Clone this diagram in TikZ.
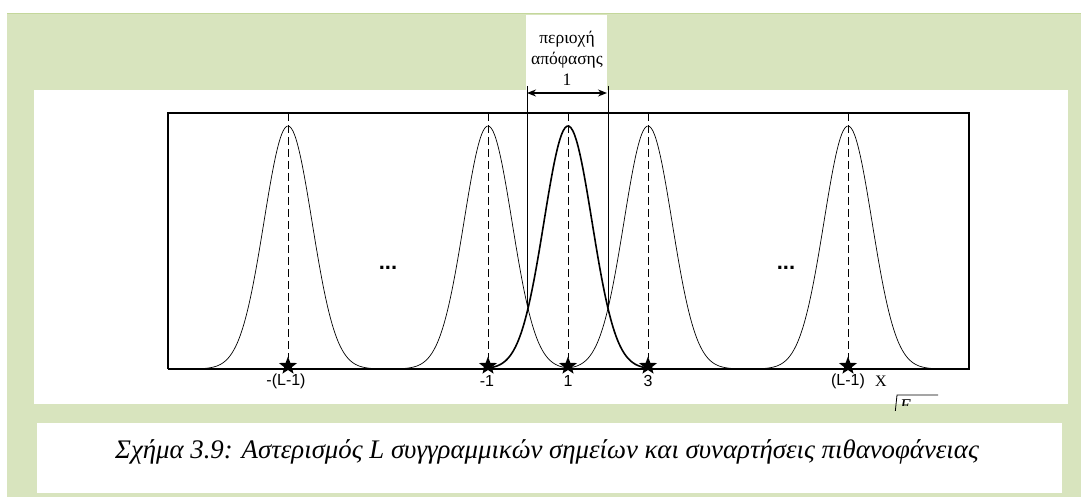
\documentclass[tikz,border=0pt]{standalone}
\usepackage{fontspec}
\setmainfont{Liberation Serif}
\newfontfamily\sansf{Liberation Sans}
\usetikzlibrary{shapes.geometric,arrows.meta}
\definecolor{bggreen}{RGB}{216,228,190}
\definecolor{edgegreen}{RGB}{196,215,155}
\tikzset{
  gauss/.style={line width=0.7pt},
  gaussbold/.style={line width=1.6pt},
  vdash/.style={line width=0.8pt, dash pattern=on 8pt off 4pt},
  starmark/.style={star, star points=5, star point ratio=2.4, fill=black, draw=none, minimum size=19pt, inner sep=0pt},
  ticklab/.style={font=\sansf\fontsize{16}{16}\selectfont, inner sep=0pt},
  declab/.style={font=\fontsize{17.5}{17.5}\selectfont, inner sep=0pt},
}
\begin{document}
\begin{tikzpicture}[x=1pt,y=-1pt]
\useasboundingbox (0,0) rectangle (1081,497);
% backgrounds
\fill[bggreen] (7,13) rectangle (1081,497);
\draw[edgegreen, line width=1.5pt] (7,13.5) -- (1081,13.5);
\fill[white] (34,90) rectangle (1068,404);
\fill[white] (526,15) rectangle (607,90);
\fill[white] (37,423) rectangle (1062,493);
% frame
\draw[line width=1.1pt] (168,369) -- (168,113) -- (969,113) -- (969,369);
\draw[line width=2pt] (167.5,369) -- (969.5,369);
% gaussians
\foreach \c in {288,488,648,848}{
  \draw[gauss] plot[domain=\c-85:\c+85, samples=90, smooth] (\x,{369-243*exp(-((\x-\c)^2)/1152)});
}
\draw[gaussbold] plot[domain=483:653, samples=90, smooth] (\x,{369-243*exp(-((\x-568)^2)/1152)});
% dashed center lines and stars
\foreach \c/\n in {288/a,488/b,568/c,648/d,848/e}{
  \coordinate (top\n) at (\c,113);
  \coordinate (bot\n) at (\c,358);
  \draw[vdash] (top\n) -- (bot\n);
  \node[starmark] (star\n) at (\c,366) {};
}
% tick labels
\node[ticklab] (la) at (286,381) {-(L-1)};
\node[ticklab] (lb) at (487,381) {-1};
\node[ticklab] (lc) at (568,381) {1};
\node[ticklab] (ld) at (648,381) {3};
\node[ticklab] (le) at (848,381) {(L-1)};
\node[inner sep=0pt, font=\fontsize{16}{16}\selectfont] (lx) at (881,381) {X};
% dots
\node[font=\sansf\bfseries\fontsize{22}{22}\selectfont, inner sep=0pt] (dots1) at (388,268) {...};
\node[font=\sansf\bfseries\fontsize{22}{22}\selectfont, inner sep=0pt] (dots2) at (786,268) {...};
% decision region
\coordinate (dl1) at (527,86);
\coordinate (dl2) at (527,306);
\coordinate (dr1) at (608,86);
\coordinate (dr2) at (608,306);
\draw[line width=0.8pt] (dl1) -- (dl2);
\draw[line width=0.8pt] (dr1) -- (dr2);
\coordinate (al) at (527,93);
\coordinate (ar) at (607,93);
\draw[line width=1.4pt, {Stealth[length=9pt,width=7pt]}-{Stealth[length=9pt,width=7pt]}] (al) -- (ar);
\node[declab] (t1) at (567,39) {περιοχή};
\node[declab] (t2) at (567,60) {απόφασης};
\node[declab] (t3) at (567,80) {1};
% sqrt E fragment
\begin{scope}
\clip (880,380) rectangle (960,410);
\draw[line width=0.8pt] (895,414) -- (897,395) -- (938,395);
\end{scope}
\begin{scope}
\clip (880,380) rectangle (960,405.5);
\node[font=\itshape\fontsize{18}{18}\selectfont, inner sep=0pt, anchor=north west] (sqE) at (900,399.5) {E};
\end{scope}
% caption
\node[font=\itshape\fontsize{26.8}{26.8}\selectfont, inner sep=0pt, anchor=base] (cap) at (547,458) {Σχήμα 3.9: Αστερισμός L συγγραμμικών σημείων και συναρτήσεις πιθανοφάνειας};
\end{tikzpicture}
\end{document}
